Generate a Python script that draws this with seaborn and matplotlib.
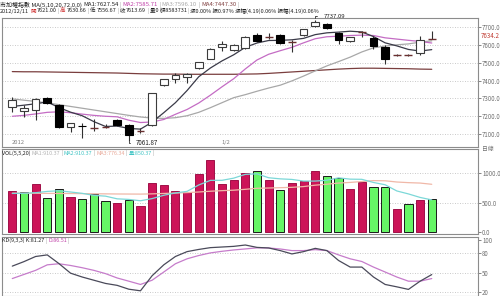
import matplotlib
matplotlib.use("Agg")
import matplotlib.pyplot as plt
import seaborn as sns
import numpy as np
from matplotlib.transforms import blended_transform_factory

# ---------------- data ----------------
opens = [7251, 7232, 7236, 7301, 7264, 7142, 7147, 7135, 7140, 7180, 7152, 7118, 7152, 7375, 7411,
         7419, 7469, 7521, 7586, 7571, 7581, 7655, 7645, 7655, 7618, 7654, 7705, 7717, 7665, 7620,
         7670, 7640, 7590, 7543, 7543, 7556, 7632]
highs = [7308, 7263, 7300, 7307, 7266, 7165, 7163, 7185, 7157, 7183, 7155, 7135, 7331, 7410, 7441,
         7441, 7506, 7580, 7622, 7603, 7650, 7665, 7665, 7660, 7627, 7690, 7737.09, 7720, 7674, 7645,
         7679, 7650, 7599, 7550, 7550, 7651, 7679]
lows = [7226, 7195, 7180, 7269, 7136, 7114, 7079, 7118, 7134, 7148, 7061.87, 7109, 7148, 7372, 7385,
        7385, 7466, 7518, 7567, 7568, 7578, 7618, 7631, 7605, 7558, 7650, 7700, 7690, 7605, 7618,
        7646, 7577, 7493, 7536, 7538, 7543, 7630]
closes = [7291, 7245, 7297, 7273, 7139, 7161, 7143, 7133, 7139, 7150, 7096, 7120, 7329, 7407, 7430,
          7435, 7502, 7577, 7605, 7599, 7646, 7623, 7646, 7609, 7617, 7687, 7728, 7694, 7627, 7642,
          7671, 7594, 7519, 7543, 7544, 7627, 7634.2]

ma5 = [7255, 7262, 7270, 7280, 7249, 7223, 7203, 7170, 7143, 7145, 7132, 7128, 7167, 7220, 7276,
       7344, 7421, 7470, 7510, 7544, 7586, 7610, 7624, 7625, 7628, 7636, 7657, 7667, 7671, 7676,
       7672, 7646, 7611, 7594, 7574, 7565, 7573]
ma10 = [7200, 7205, 7213, 7222, 7225, 7220, 7212, 7205, 7200, 7197, 7178, 7165, 7168, 7182, 7211,
        7238, 7274, 7318, 7365, 7410, 7465, 7515, 7547, 7567, 7586, 7611, 7634, 7645, 7648, 7652,
        7654, 7652, 7639, 7632, 7625, 7619, 7610]
ma20 = [7297, 7290, 7283, 7275, 7265, 7255, 7245, 7235, 7225, 7215, 7205, 7196, 7190, 7188, 7192,
        7203, 7222, 7248, 7276, 7304, 7321, 7340, 7358, 7374, 7398, 7425, 7454, 7482, 7506, 7531,
        7560, 7583, 7593, 7600, 7605, 7615, 7622]
ma72 = [7450, 7449, 7449, 7448, 7447, 7446, 7445, 7444, 7443, 7442, 7440, 7438, 7437, 7436, 7436,
        7435, 7435, 7435, 7435, 7435, 7436, 7437, 7440, 7444, 7448, 7452, 7456, 7460, 7464, 7467,
        7469, 7469, 7468, 7467, 7466, 7464, 7463]

volume = [702, 675, 822, 582, 726, 594, 560, 646, 520, 497, 543, 445, 829, 805, 697, 680, 988, 1223,
          812, 880, 1005, 1034, 890, 714, 834, 863, 1034, 959, 920, 726, 846, 765, 765, 389, 469, 548, 555]
vol_up = [1, 0, 1, 0, 0, 1, 0, 0, 0, 1, 0, 1, 1, 1, 1, 1, 1, 1, 1, 1, 1, 0, 1, 0, 1, 1, 1, 0, 0, 1,
          1, 0, 0, 1, 0, 1, 0]
vol_ma5 = [655, 658, 668, 690, 701, 680, 657, 622, 609, 563, 553, 530, 567, 624, 664, 691, 800, 879,
           880, 917, 982, 991, 924, 905, 895, 867, 867, 881, 922, 900, 897, 843, 804, 698, 647, 587, 545]
vol_ma20 = [660, 660, 658, 656, 655, 654, 652, 650, 648, 646, 645, 644, 648, 655, 662, 670, 680, 693,
            703, 711, 726, 744, 748, 754, 760, 773, 797, 813, 833, 844, 859, 875, 872, 851, 840, 833, 812]

k_line = [60, 67, 75, 77.5, 64, 49, 43, 38, 33, 30, 24, 21.5, 45, 62, 75, 82.6, 86, 88.8, 89.8, 90.8,
          92.9, 89.2, 88.3, 84.2, 79, 82.6, 87.7, 84.2, 68.8, 58.5, 58.5, 43, 31.4, 27.7, 23.7, 36.5, 46.8]
d_line = [40.6, 47, 53.4, 62, 63.7, 61, 57.5, 53.4, 48.3, 41.5, 36.5, 31.4, 38, 50.8, 63.7, 71.4, 76.5,
          80.6, 83.1, 85.2, 86.8, 88.5, 88.3, 86.7, 84.2, 84.2, 85.7, 84.2, 77.5, 71.4, 67.2, 58.5, 50.8,
          43, 36.5, 36.5, 40.6]

date_pos = [0, 18]
date_txt = ["2012", "1/2"]
price_ticks = [7100, 7200, 7300, 7400, 7500, 7600, 7700]
vol_ticks = [0, 500, 1000]
kd_ticks = [20, 50, 80, 100]
last_price = 7634.2

# ---------------- style ----------------
sns.set_theme(style="white")
plt.rcParams["font.family"] = ["Noto Sans CJK TC", "DejaVu Sans"]

W, H = 500, 296
fig = plt.figure(figsize=(W / 100, H / 100), dpi=100)
fig.patch.set_facecolor("white")
renderer = fig.canvas.get_renderer()

def box(x0, y0, x1, y1):
    return [x0 / W, 1 - y1 / H, (x1 - x0) / W, (y1 - y0) / H]

axp = fig.add_axes(box(2, 18, 478, 147))
axv = fig.add_axes(box(2, 149, 478, 234))
axk = fig.add_axes(box(2, 237, 478, 296))

n = len(closes)
xs = np.arange(n)
xlim = (-0.884, 39.97)
grid_kw = dict(color="#B8B8B8", linestyle=(0, (1, 2)), linewidth=0.6)
TICK_FS = 4.4

for ax in (axp, axv, axk):
    for s in ax.spines.values():
        s.set_color("#8C8C8C")
        s.set_linewidth(0.8)
    ax.set_facecolor("white")

# ---------------- price panel ----------------
for i in range(n):
    o, h, l, c = opens[i], highs[i], lows[i], closes[i]
    axp.vlines(i, l, h, color="#303030", lw=0.8, zorder=2)
    if abs(c - o) < 3:
        axp.hlines(c, i - 0.34, i + 0.34, color="#6A3030", lw=1.0, zorder=3)
    elif c > o:
        axp.bar(i, c - o, bottom=o, width=0.66, facecolor="white", edgecolor="#3C3C3C",
                linewidth=0.8, zorder=3)
    else:
        axp.bar(i, o - c, bottom=c, width=0.66, facecolor="black", edgecolor="black",
                linewidth=0.8, zorder=3)

sns.lineplot(x=xs, y=ma72, ax=axp, color="#7A3E3E", lw=0.9, zorder=1)
sns.lineplot(x=xs, y=ma20, ax=axp, color="#A8A8A8", lw=0.9, zorder=1)
sns.lineplot(x=xs, y=ma10, ax=axp, color="#C46CC4", lw=0.9, zorder=1)
sns.lineplot(x=xs, y=ma5, ax=axp, color="#3A3A48", lw=0.9, zorder=1)

axp.set_xlim(*xlim)
axp.set_ylim(7028, 7750)
axp.yaxis.tick_right()
axp.set_yticks(price_ticks)
axp.set_yticklabels([f"{v:.1f}" for v in price_ticks])
axp.tick_params(axis="y", labelsize=TICK_FS, colors="#707070", length=2, pad=1, width=0.6)
axp.set_xticks([])
for v in price_ticks:
    axp.axhline(v, **grid_kw, zorder=0)

# extreme labels
i_lo = int(np.argmin(lows))
i_hi = int(np.argmax(highs))
axp.annotate(f"{lows[i_lo]:.2f}", xy=(i_lo, lows[i_lo]), xytext=(7, -2), textcoords="offset pixels",
             fontsize=4.5, color="#202020", va="center", ha="left",
             arrowprops=dict(arrowstyle="-", color="#303030", lw=0.6,
                             connectionstyle="angle,angleA=0,angleB=90,rad=0"),
             annotation_clip=False)
axp.annotate(f"{highs[i_hi]:.2f}", xy=(i_hi, highs[i_hi]), xytext=(8, 4), textcoords="offset pixels",
             fontsize=4.3, color="#202020", va="center", ha="left",
             arrowprops=dict(arrowstyle="-", color="#303030", lw=0.6,
                             connectionstyle="angle,angleA=0,angleB=90,rad=0"),
             annotation_clip=False)

# last price marker on right axis
tr = blended_transform_factory(axp.transAxes, axp.transData)
axp.text(1.006, last_price + 14, f"{last_price:.1f}", transform=tr, fontsize=TICK_FS, color="#C03A30",
         va="center", ha="left", clip_on=False)

# date labels
trx = blended_transform_factory(axp.transData, axp.transAxes)
for p, t in zip(date_pos, date_txt):
    axp.text(p - 0.05, 0.012, t, transform=trx, fontsize=4.2, color="#808080", ha="left", va="bottom")

# ---------------- volume panel ----------------
vcolors = {f"d{i}": ("#CC1458" if vol_up[i] else "#66F566") for i in range(n)}
hue_keys = [f"d{i}" for i in range(n)]
sns.barplot(x=xs, y=volume, hue=hue_keys, palette=vcolors, dodge=False, legend=False,
            width=0.7, ax=axv, zorder=2, native_scale=True, saturation=1)
for p in axv.patches:
    idx = int(round(p.get_x() + p.get_width() / 2))
    if 0 <= idx < n:
        p.set_edgecolor("#1A1A1A" if not vol_up[idx] else "#A01048")
        p.set_linewidth(0.7)
sns.lineplot(x=xs, y=vol_ma20, ax=axv, color="#F0B8A8", lw=0.9, zorder=3)
sns.lineplot(x=xs, y=vol_ma5, ax=axv, color="#7CD8D8", lw=0.9, zorder=3)
axv.set_xlim(*xlim)
axv.set_ylim(-39, 1416)
axv.yaxis.tick_right()
axv.set_yticks(vol_ticks)
axv.set_yticklabels([f"{v:.1f}" for v in vol_ticks])
axv.tick_params(axis="y", labelsize=TICK_FS, colors="#707070", length=2, pad=1, width=0.6)
axv.set_xticks([])
axv.set_xlabel("")
axv.set_ylabel("")
for v in vol_ticks[1:]:
    axv.axhline(v, **grid_kw, zorder=0)

# ---------------- KD panel ----------------
sns.lineplot(x=xs, y=d_line, ax=axk, color="#C67CCB", lw=0.9)
sns.lineplot(x=xs, y=k_line, ax=axk, color="#4A4A5A", lw=0.9)
axk.set_xlim(*xlim)
axk.set_ylim(13.4, 105.4)
axk.yaxis.tick_right()
axk.set_yticks(kd_ticks)
axk.set_yticklabels([str(v) for v in kd_ticks])
axk.tick_params(axis="y", labelsize=TICK_FS, colors="#707070", length=2, pad=1, width=0.6)
axk.set_xticks([])
for v in kd_ticks[:-1]:
    axk.axhline(v, **grid_kw, zorder=0)

# ---------------- header / titles (laid out in sequence) ----------------
def seq(x0, yp, parts, size, gap=1.2):
    x = x0
    for s, col in parts:
        t = fig.text(x / W, 1 - yp / H, s, color=col, fontsize=size, va="center", ha="left")
        bb = t.get_window_extent(renderer)
        x = bb.x1 + gap

K = "#202020"
G = "#A0A0A0"
R = "#D03030"
seq(0, 4.5, [("市加權指數 MA(5,10,20,72,0,0)", K), ("MA1:7627.54", K), ("|", G),
             ("MA2:7585.71", "#C040A8"), ("|", G), ("MA3:7596.10", "#A8A8A8"), ("|", G),
             ("MA4:7447.30", "#804040"), ("|", G)], 4.3)
seq(0, 11.0, [("2012/12/11", K), ("開", R), ("7621.00", K), ("|", G), ("高", R), ("7630.66", K),
              ("|", G), ("低", K), ("7556.67", K), ("|", G), ("收", K), ("7613.69", K), ("|", G),
              ("量0 額8583731", K), ("|", G), ("漲0.00% 振0.97% 漲幅(4.19)0.06% 振幅(4.19)0.06%", K)],
    4.0, gap=1.0)
seq(2, 153.5, [("VOL(5,5,20)", K), ("MA1:910.37", "#B4B4B4"), ("|", G), ("MA2:910.37", "#40C4C4"),
               ("|", G), ("MA3:776.34", "#E8A898"), ("|", G), ("量:850.37", "#40C4C4"), ("|", G)], 3.9)
seq(2, 240.5, [("KD(9,3,3) K:81.27", K), ("|", G), ("D:86.51", "#C040A8"), ("|", G)], 3.9)

fig.text(482 / W, 1 - 149.5 / H, "日線", color="#707070", fontsize=4.2, va="center", ha="left")

fig.savefig("out.png", dpi=100, facecolor="white")
